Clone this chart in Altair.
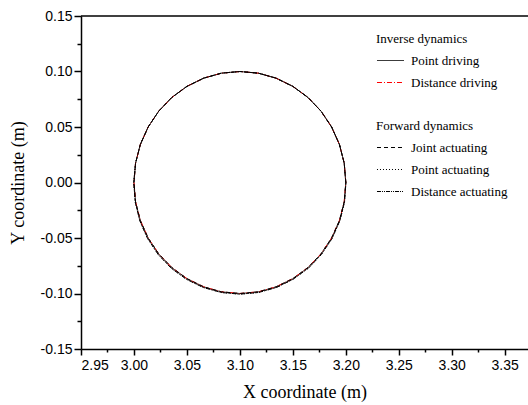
import altair as alt
import pandas as pd

# Trajectory points (circle about (3.10, 0.00), r = 0.10 m)
circle_x = [3.2000, 3.1985, 3.1940, 3.1866, 3.1766, 3.1643, 3.1500, 3.1342, 3.1174,
            3.1000, 3.0826, 3.0658, 3.0500, 3.0357, 3.0234, 3.0134, 3.0060, 3.0015,
            3.0000, 3.0015, 3.0060, 3.0134, 3.0234, 3.0357, 3.0500, 3.0658, 3.0826,
            3.1000, 3.1174, 3.1342, 3.1500, 3.1643, 3.1766, 3.1866, 3.1940, 3.1985, 3.2000]
circle_y = [0.0000, 0.0174, 0.0342, 0.0500, 0.0643, 0.0766, 0.0866, 0.0940, 0.0985,
            0.1000, 0.0985, 0.0940, 0.0866, 0.0766, 0.0643, 0.0500, 0.0342, 0.0174,
            0.0000, -0.0174, -0.0342, -0.0500, -0.0643, -0.0766, -0.0866, -0.0940, -0.0985,
            -0.1000, -0.0985, -0.0940, -0.0866, -0.0766, -0.0643, -0.0500, -0.0342, -0.0174, 0.0000]
# forward-dynamics result drifts slightly outward on the lower half
fwd_x = [3.2000, 3.1985, 3.1940, 3.1866, 3.1766, 3.1643, 3.1500, 3.1342, 3.1174,
         3.1000, 3.0826, 3.0658, 3.0500, 3.0357, 3.0234, 3.0134, 3.0060, 3.0015,
         2.9998, 3.0012, 3.0055, 3.0128, 3.0228, 3.0351, 3.0495, 3.0655, 3.0824,
         3.1000, 3.1176, 3.1345, 3.1504, 3.1648, 3.1771, 3.1871, 3.1944, 3.1988, 3.2001]
fwd_y = [0.0000, 0.0174, 0.0342, 0.0500, 0.0643, 0.0766, 0.0866, 0.0940, 0.0985,
         0.1000, 0.0985, 0.0940, 0.0866, 0.0766, 0.0643, 0.0500, 0.0342, 0.0174,
         0.0000, -0.0175, -0.0345, -0.0504, -0.0648, -0.0772, -0.0872, -0.0946, -0.0991,
         -0.1006, -0.0991, -0.0946, -0.0871, -0.0771, -0.0647, -0.0503, -0.0344, -0.0175, 0.0000]

inverse_series = ["Point driving", "Distance driving"]
forward_series = ["Joint actuating", "Point actuating", "Distance actuating"]

x_major = [2.95, 3.00, 3.05, 3.10, 3.15, 3.20, 3.25, 3.30, 3.35]
x_minor = [2.975, 3.025, 3.075, 3.125, 3.175, 3.225, 3.275, 3.325]
y_major = [-0.15, -0.10, -0.05, 0.00, 0.05, 0.10, 0.15]
y_minor = [-0.125, -0.075, -0.025, 0.025, 0.075, 0.125]

inv_rows = []
for s in inverse_series:
    for i, (x, y) in enumerate(zip(circle_x, circle_y)):
        inv_rows.append({"series": s, "i": i, "x": x, "y": y})
fwd_rows = []
for k, s in enumerate(forward_series):
    xs = circle_x if k == 0 else fwd_x
    ys = circle_y if k == 0 else fwd_y
    for i, (x, y) in enumerate(zip(xs, ys)):
        fwd_rows.append({"series": s, "i": i, "x": x, "y": y})
inv_df = pd.DataFrame(inv_rows)
fwd_df = pd.DataFrame(fwd_rows)

W, H = 447, 333
xscale = alt.Scale(domain=[2.95, 3.372], nice=False, zero=False)
yscale = alt.Scale(domain=[-0.15, 0.15], nice=False, zero=False)

SANS = "Liberation Sans"
SERIF = "Liberation Serif"
HYPHEN_LABEL = "replace(datum.label, '\u2212', '-')"

x_axis_major = alt.Axis(values=x_major, format=".2f", orient="bottom", grid=False,
                        tickSize=6, tickWidth=1.5, tickColor="black",
                        domainColor="black", domainWidth=1.5,
                        labelFont=SANS, labelFontSize=14, labelColor="black", labelPadding=3,
                        title="X coordinate (m)", titleFont=SERIF, titleFontSize=18,
                        titleFontWeight="normal", titleColor="black", titlePadding=11)
y_axis_major = alt.Axis(values=y_major, format=".2f", orient="left", grid=False,
                        tickSize=7, tickWidth=1.5, tickColor="black",
                        domainColor="black", domainWidth=1.5, labelExpr=HYPHEN_LABEL,
                        labelFont=SANS, labelFontSize=14, labelColor="black", labelPadding=2,
                        title="Y coordinate (m)", titleFont=SERIF, titleFontSize=18,
                        titleFontWeight="normal", titleColor="black", titlePadding=13)
x_axis_minor = alt.Axis(values=x_minor, orient="bottom", grid=False, labels=False,
                        domain=False, tickSize=3, tickWidth=1.5, tickColor="black", title=None)
y_axis_minor = alt.Axis(values=y_minor, orient="left", grid=False, labels=False,
                        domain=False, tickSize=4, tickWidth=1.5, tickColor="black", title=None)

leg_common = dict(orient="none", symbolType="stroke", symbolSize=730, symbolStrokeWidth=1,
                  labelFont=SERIF, labelFontSize=13, labelColor="black",
                  titleFont=SERIF, titleFontSize=13, titleFontWeight="normal",
                  titleColor="black", padding=0, rowPadding=0, titlePadding=0,
                  labelOffset=6, legendX=295)
leg_inv = alt.Legend(title="Inverse dynamics", legendY=17, **leg_common)
leg_fwd = alt.Legend(title="Forward dynamics", legendY=104, symbolStrokeColor="black", **leg_common)

inv = alt.Chart(inv_df).mark_line(strokeWidth=1, clip=True).encode(
    x=alt.X("x:Q", scale=xscale, axis=x_axis_minor),
    y=alt.Y("y:Q", scale=yscale, axis=y_axis_minor),
    order="i:Q",
    color=alt.Color("series:N", scale=alt.Scale(domain=inverse_series, range=["#3a3a3a", "#ff0000"]),
                    legend=leg_inv),
    strokeDash=alt.StrokeDash("series:N", scale=alt.Scale(domain=inverse_series,
                                                          range=[[1, 0], [5, 2, 1, 2]]),
                              legend=leg_inv),
)

fwd = alt.Chart(fwd_df).mark_line(strokeWidth=1, clip=True).encode(
    x=alt.X("x:Q", scale=xscale, axis=x_axis_major),
    y=alt.Y("y:Q", scale=yscale, axis=y_axis_major),
    order="i:Q",
    color=alt.value("black"),
    strokeDash=alt.StrokeDash("series:N", scale=alt.Scale(domain=forward_series,
                                                          range=[[4, 3], [1, 2], [4, 1, 1, 1, 1, 1]]),
                              legend=leg_fwd),
)

border = alt.Chart(pd.DataFrame({"a": [0]})).mark_rule(color="black", strokeWidth=1.5).encode(
    x=alt.value(0), x2=alt.value(W), y=alt.value(0)
)

chart = alt.layer(inv, fwd, border).resolve_scale(
    color="independent", strokeDash="independent"
).resolve_axis(
    x="independent", y="independent"
).properties(
    width=W, height=H, autosize="none",
    padding={"left": 81, "top": 16, "right": 0, "bottom": 56},
    background="white"
).configure_view(stroke=None)

chart.save("out.html", embed_options={"renderer": "svg", "actions": False})
